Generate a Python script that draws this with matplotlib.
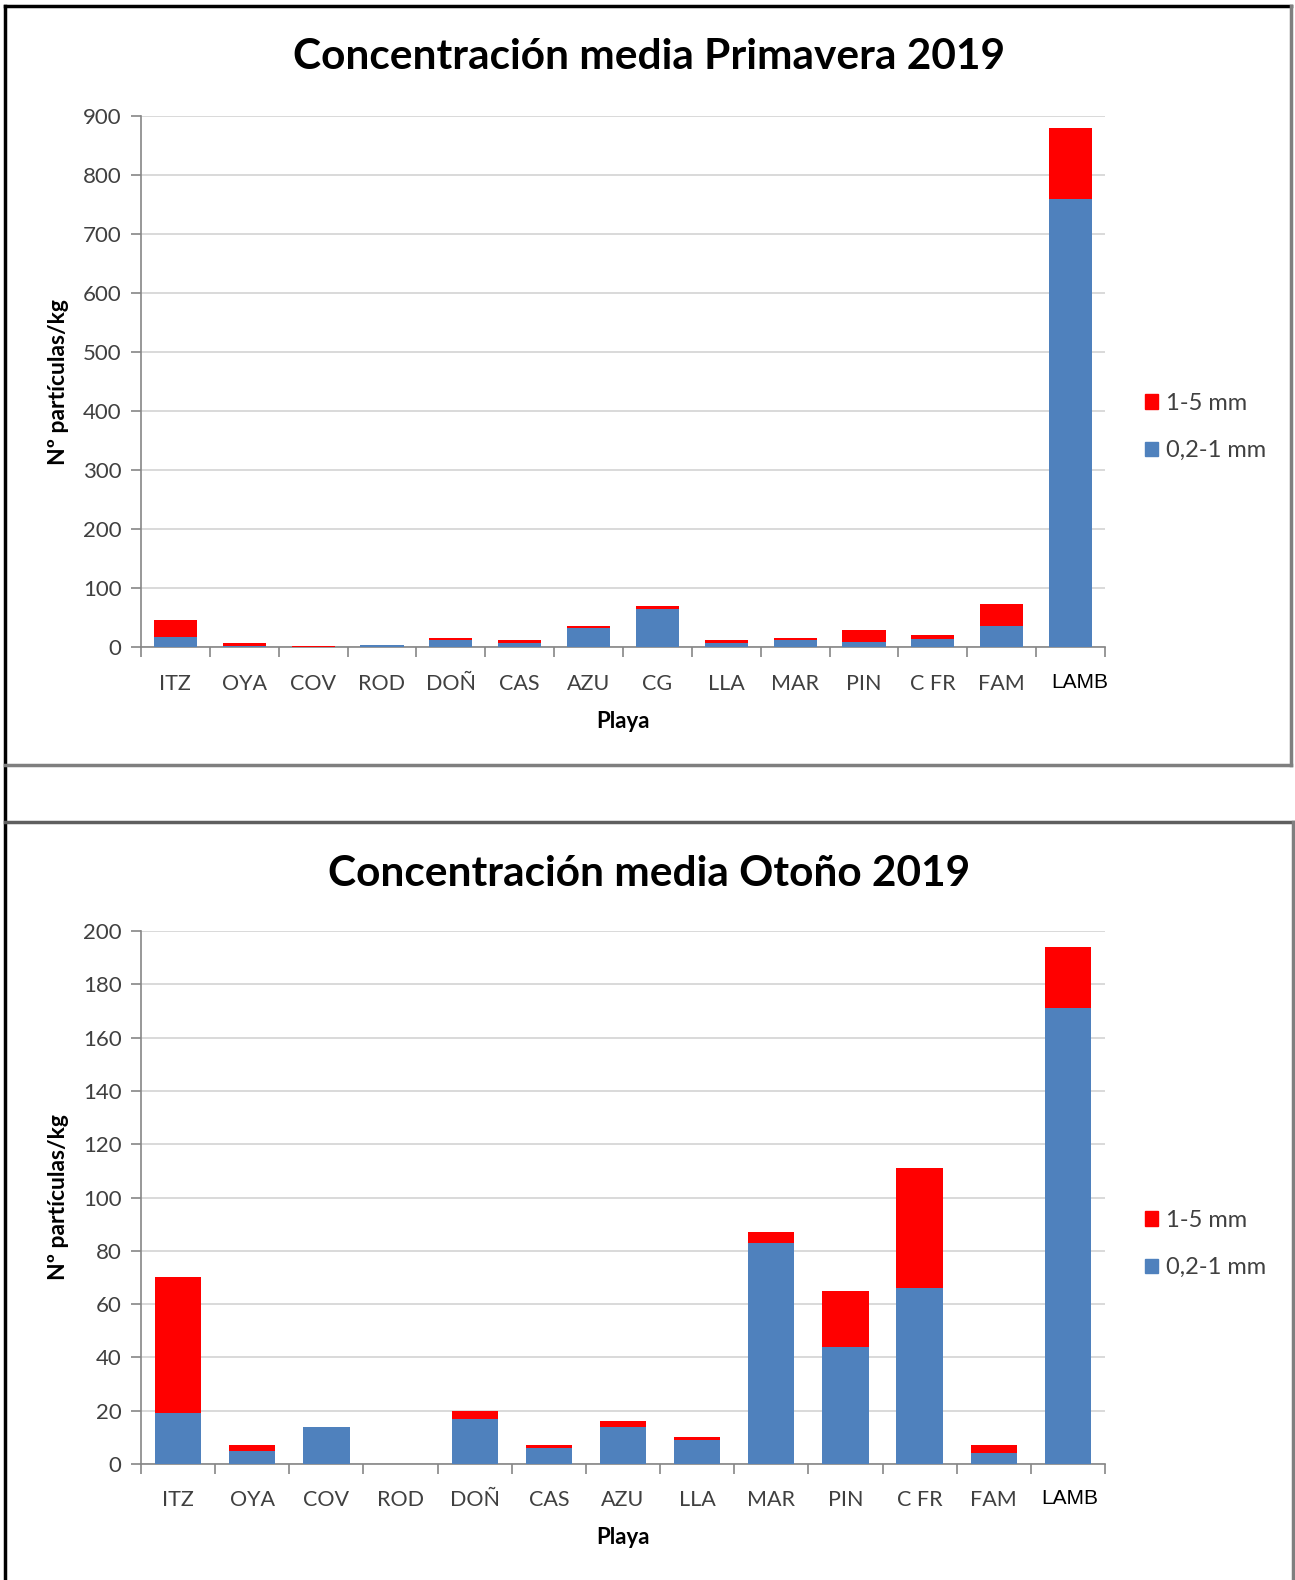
import matplotlib
matplotlib.use("Agg")
import matplotlib.pyplot as plt  # noqa: E402
import matplotlib.transforms as mtransforms  # noqa: E402
from matplotlib.lines import Line2D  # noqa: E402
from matplotlib.patches import Patch  # noqa: E402

# Primavera 2019
spring_cats = ["ITZ", "OYA", "COV", "ROD", "DOÑ", "CAS", "AZU", "CG", "LLA",
               "MAR", "PIN", "C FR", "FAM", "LAMB"]
spring_small = [17, 2, 0.3, 5, 12, 8, 33, 65, 8, 12, 10, 15, 36, 760]
spring_large = [30, 5, 3, 0, 4, 4, 4, 5, 4, 4, 20, 7, 37, 120]

# Otoño 2019
autumn_cats = ["ITZ", "OYA", "COV", "ROD", "DOÑ", "CAS", "AZU", "LLA",
               "MAR", "PIN", "C FR", "FAM", "LAMB"]
autumn_small = [19, 5, 14, 0, 17, 6, 14, 9, 83, 44, 66, 4, 171]
autumn_large = [51, 2, 0, 0, 3, 1, 2, 1, 4, 21, 45, 3, 23]

BLUE = "#4F81BD"
RED = "#FF0000"
GRID = "#D9D9D9"
AXIS = "#868686"
TXT = "#404040"
W, H = 1295, 1580


def fx(px):
    return px / W


def fy(py):
    return 1 - py / H


def draw_panel(fig, top_px, bot_px, cats, small, large, ymax, ystep, title, title_y, leg_y,
               lamb_shift):
    ax = fig.add_axes([fx(141), fy(bot_px), fx(1105) - fx(141), fy(top_px) - fy(bot_px)])
    x = list(range(len(cats)))
    ax.bar(x, small, width=0.625, color=BLUE, zorder=3)
    ax.bar(x, large, width=0.625, bottom=small, color=RED, zorder=3)
    ax.set_xlim(-0.5, len(cats) - 0.5)
    ax.set_ylim(0, ymax)
    ax.set_yticks(range(0, ymax + 1, ystep))
    ax.yaxis.grid(True, color=GRID, linewidth=1.4, zorder=0)
    ax.set_axisbelow(True)
    for s in ["top", "right"]:
        ax.spines[s].set_visible(False)
    for s in ["left", "bottom"]:
        ax.spines[s].set_color(AXIS)
        ax.spines[s].set_linewidth(1.2)
    ax.tick_params(axis="y", colors=AXIS, length=7, width=1.2, labelsize=16, pad=7,
                   labelcolor=TXT)
    ax.set_xticks(x)
    ax.set_xticklabels(cats)
    ax.set_xticks([i - 0.5 for i in range(len(cats) + 1)], minor=True)
    ax.tick_params(axis="x", which="major", length=0, labelsize=15.5, pad=19, labelcolor=TXT)
    ax.tick_params(axis="x", which="minor", length=7, width=1.2, color=AXIS)
    for lbl in ax.get_yticklabels() + ax.get_xticklabels():
        lbl.set_fontfamily("Lato")
    last = ax.get_xticklabels()[-1]
    last.set_fontfamily("Liberation Sans")
    last.set_fontsize(15)
    last.set_color("black")
    last.set_y(0.002)
    last.set_transform(last.get_transform() +
                       mtransforms.ScaledTranslation(lamb_shift / 100, 0, fig.dpi_scale_trans))
    ax.set_xlabel("Playa", fontsize=16, fontweight="bold", fontfamily="Lato",
                  color="black", labelpad=12)
    ax.set_ylabel("Nº partículas/kg", fontsize=16.5, fontweight="bold", fontfamily="Lato",
                  color="black", labelpad=10)
    fig.text(fx(649), fy(title_y), title, ha="center", va="center", fontsize=30.5,
             fontweight="bold", fontfamily="Lato", color="black")
    handles = [Patch(color=RED, label="1-5 mm"), Patch(color=BLUE, label="0,2-1 mm")]
    fig.legend(handles=handles, loc="center left", bbox_to_anchor=(fx(1136), fy(leg_y)),
               frameon=False, prop={"family": "Lato", "size": 17}, handlelength=0.55,
               handleheight=0.55, handletextpad=0.3, labelspacing=1.12,
               labelcolor=TXT, borderaxespad=0)
    return ax


fig = plt.figure(figsize=(W / 100, H / 100), dpi=100)

draw_panel(fig, 116, 647.5, spring_cats, spring_small, spring_large, 900, 100,
           "Concentración media Primavera 2019", 57, 427, 9)
draw_panel(fig, 931, 1464, autumn_cats, autumn_small, autumn_large, 200, 20,
           "Concentración media Otoño 2019", 874, 1244, 2)

# panel frames
frame = [
    ((5, 5), (6, H), "black", 2.5),
    ((5, 1291), (6, 6), "black", 2.5),
    ((1291, 1291), (6, 765), "#7F7F7F", 2.5),
    ((5, 1291), (765, 765), "#7F7F7F", 2.5),
    ((5, 1293), (822, 822), "#5F5F5F", 2.5),
    ((1293, 1293), (822, H), "#7F7F7F", 2.5),
]
for xs, ys, c, lw in frame:
    fig.add_artist(Line2D([fx(xs[0]), fx(xs[1])], [fy(ys[0]), fy(ys[1])],
                          transform=fig.transFigure, color=c, linewidth=lw))

fig.savefig("out.png", dpi=100)
plt.close(fig)
